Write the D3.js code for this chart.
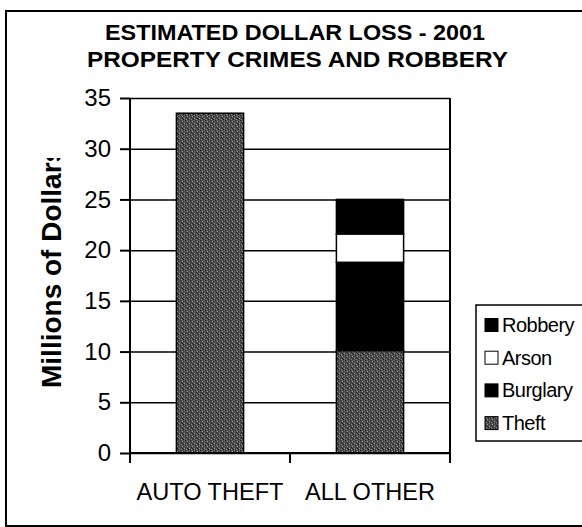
<!DOCTYPE html>
<html>
<head>
<meta charset="utf-8">
<script src="https://cdn.jsdelivr.net/npm/d3@7/dist/d3.min.js"></script>
<style>
  html, body { margin: 0; padding: 0; background: #fff; }
  svg { display: block; font-family: "Liberation Sans", Arial, sans-serif; }
</style>
</head>
<body>
<svg id="chart" width="582" height="527"></svg>
<script>
// Estimated dollar loss (millions), 2001
const categories = ["AUTO THEFT", "ALL OTHER"];
const seriesNames = ["Theft", "Burglary", "Arson", "Robbery"];
const theft    = [33.5, 10.1];
const burglary = [0, 8.7];
const arson    = [0, 2.8];
const robbery  = [0, 3.4];
const yTicks = [0, 5, 10, 15, 20, 25, 30, 35];
const titleLines = ["ESTIMATED DOLLAR LOSS - 2001", "PROPERTY CRIMES AND ROBBERY"];
const yTitle = "Millions of Dollars";

const seriesValues = { Theft: theft, Burglary: burglary, Arson: arson, Robbery: robbery };
const fills = { Theft: "url(#stipple)", Burglary: "#000", Arson: "#fff", Robbery: "#000" };

const rows = categories.map((c, i) => {
  const r = { category: c };
  seriesNames.forEach(s => r[s] = seriesValues[s][i]);
  return r;
});
const stacked = d3.stack().keys(seriesNames)(rows);

const svg = d3.select("#chart");
const defs = svg.append("defs");

// grainy grey fill used for the theft series
const pat = defs.append("pattern").attr("id", "stipple")
  .attr("patternUnits", "userSpaceOnUse").attr("width", 5).attr("height", 5);
pat.append("rect").attr("width", 5).attr("height", 5).attr("fill", "#505050");
[[0,0,"#1e1e1e"],[2,1,"#a5a5a5"],[1,2,"#262626"],[4,3,"#959595"],[3,1,"#2e2e2e"],[0,3,"#3c3c3c"],
 [3,4,"#1a1a1a"],[1,4,"#858585"],[4,0,"#707070"],[2,3,"#222"]]
  .forEach(([x, y, c]) => pat.append("rect").attr("x", x).attr("y", y).attr("width", 1).attr("height", 1).attr("fill", c));

defs.append("clipPath").attr("id", "ytitle-clip")
  .append("rect").attr("x", 0).attr("y", 158).attr("width", 120).attr("height", 300);

// outer frame
svg.append("rect").attr("x", 6).attr("y", 11).attr("width", 600).attr("height", 515)
  .attr("fill", "none").attr("stroke", "#000").attr("stroke-width", 2);

const plot = { left: 130, right: 450, top: 98, bottom: 453 };

const x = d3.scaleBand().domain(categories)
  .range([plot.left, plot.right]).paddingInner(0.58).paddingOuter(0.29);
const y = d3.scaleLinear().domain([0, 35]).range([plot.bottom, plot.top]);

// gridlines
svg.append("g").attr("transform", `translate(${plot.left},0)`)
  .call(d3.axisLeft(y).tickValues(yTicks).tickSize(-(plot.right - plot.left)).tickFormat(""))
  .call(g => g.select(".domain").remove())
  .call(g => g.selectAll("line").attr("stroke", "#000").attr("stroke-width", 1.5));

// bars
svg.append("g").selectAll("g").data(stacked).join("g")
  .attr("fill", d => fills[d.key])
  .selectAll("rect").data(d => d.filter(p => p[1] - p[0] > 0)).join("rect")
  .attr("x", p => x(p.data.category))
  .attr("width", x.bandwidth())
  .attr("y", p => y(p[1]))
  .attr("height", p => y(p[0]) - y(p[1]))
  .attr("stroke", "#000").attr("stroke-width", 1.5);

// y axis
svg.append("g").attr("transform", `translate(${plot.left},0)`)
  .call(d3.axisLeft(y).tickValues(yTicks).tickSize(10).tickPadding(9))
  .call(g => g.select(".domain").attr("d", `M0,${plot.top}V${plot.bottom + 10}`))
  .call(g => g.selectAll("line, .domain").attr("stroke", "#000").attr("stroke-width", 2))
  .call(g => g.selectAll("text").attr("font-size", 24).attr("fill", "#000")
    .attr("font-family", "'Liberation Sans', Arial, sans-serif"));

// x axis: baseline, boundary ticks, category labels
const step = x.step();
const bounds = d3.range(categories.length + 1).map(i => plot.left + i * step);
const labelWidths = [147, 130];
const xg = svg.append("g");
xg.append("line").attr("x1", plot.left).attr("x2", plot.right)
  .attr("y1", plot.bottom).attr("y2", plot.bottom).attr("stroke", "#000").attr("stroke-width", 2);
xg.selectAll("line.tick").data(bounds).join("line").attr("class", "tick")
  .attr("x1", d => d).attr("x2", d => d).attr("y1", plot.bottom).attr("y2", plot.bottom + 10)
  .attr("stroke", "#000").attr("stroke-width", 2);
xg.selectAll("text").data(categories).join("text")
  .attr("x", d => x(d) + x.bandwidth() / 2).attr("y", 500)
  .attr("text-anchor", "middle").attr("font-size", 24)
  .attr("textLength", (d, i) => labelWidths[i]).attr("lengthAdjust", "spacingAndGlyphs")
  .text(d => d);

// right edge of plot
svg.append("line").attr("x1", plot.right).attr("x2", plot.right)
  .attr("y1", plot.top).attr("y2", plot.bottom + 10).attr("stroke", "#000").attr("stroke-width", 2);

// y axis title (clipped at the top)
svg.append("g").attr("clip-path", "url(#ytitle-clip)")
  .append("text")
  .attr("transform", "translate(61,388) rotate(-90)")
  .attr("font-size", 28).attr("font-weight", "bold").text(yTitle);

// chart title
const titleWidths = [380, 421];
svg.append("g").selectAll("text").data(titleLines).join("text")
  .attr("x", (d, i) => i === 0 ? 295 : 297.5).attr("y", (d, i) => 40 + i * 27)
  .attr("text-anchor", "middle").attr("font-size", 22).attr("font-weight", "bold")
  .attr("textLength", (d, i) => titleWidths[i]).attr("lengthAdjust", "spacingAndGlyphs")
  .text(d => d);

// legend
const lg = svg.append("g");
lg.append("rect").attr("x", 476).attr("y", 305).attr("width", 120).attr("height", 136)
  .attr("fill", "#fff").attr("stroke", "#000").attr("stroke-width", 1.5);
const legendOrder = seriesNames.slice().reverse();
const item = lg.selectAll("g").data(legendOrder).join("g")
  .attr("transform", (d, i) => `translate(485,${325 + i * 32.7})`);
item.append("rect").attr("x", 0).attr("y", -6.5).attr("width", 13).attr("height", 13)
  .attr("fill", d => fills[d]).attr("stroke", "#000").attr("stroke-width", 1);
item.append("text").attr("x", 17).attr("y", 7).attr("font-size", 20).attr("letter-spacing", -0.5)
  .text(d => d);
</script>
</body>
</html>
